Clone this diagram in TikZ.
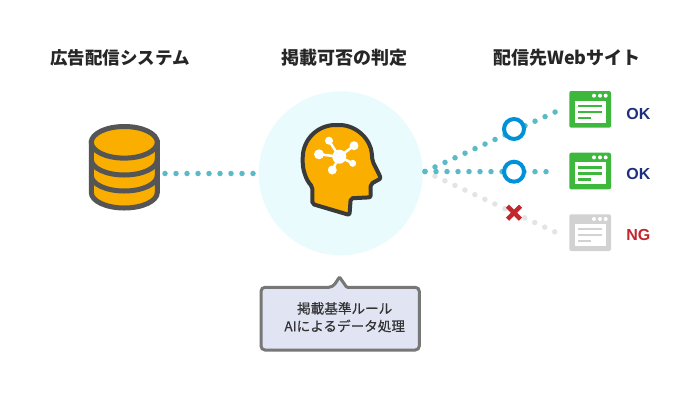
\documentclass[tikz,border=0pt]{standalone}
\usepackage{fontspec}
\newfontfamily\cjk{Noto Sans CJK JP}
\newfontfamily\cjknote[FakeBold=0.25]{Noto Sans CJK JP}
\newfontfamily\okfont{Liberation Sans}
\usetikzlibrary{shapes.misc}

\definecolor{headfill}{HTML}{F9AE00}
\definecolor{headline}{HTML}{3A3A3A}
\definecolor{dbline}{HTML}{555555}
\definecolor{halo}{HTML}{E9FBFD}
\definecolor{tealdot}{HTML}{5BBAC8}
\definecolor{greydot}{HTML}{E4E4E4}
\definecolor{okblue}{HTML}{0092D8}
\definecolor{ngred}{HTML}{C1272D}
\definecolor{okgreen}{HTML}{3DB83D}
\definecolor{nggrey}{HTML}{D2D2D2}
\definecolor{oknavy}{HTML}{1F2F7F}
\definecolor{notefill}{HTML}{E0E4F3}
\definecolor{noteline}{HTML}{777777}

\begin{document}
\begin{tikzpicture}[x=1pt,y=-1pt]
    \tikzset{
        title/.style={font=\cjk\bfseries\fontsize{#1}{21}\selectfont, text=black!85, inner sep=0pt},
        verdict/.style={font=\okfont\bfseries\fontsize{16}{19}\selectfont, inner sep=0pt},
        notetext/.style={font=\cjknote\fontsize{13.6}{17.7}\selectfont, text=black!80, align=center, inner sep=0pt},
        dotline/.style={line width=5.5pt, line cap=round, dash pattern=on 0pt off 11pt, color=#1},
        ring/.style={circle, draw=okblue, fill=white, line width=4pt, minimum size=20pt, inner sep=0pt},
        browser/.pic={
            \fill[#1, rounded corners=2pt] (569.3,91) rectangle (611,127.7);
            \fill[white] (575,100.7) rectangle (605.7,122.7);
            \foreach \dotx in {594,600,605.7} {
                \fill[white] (\dotx,95.7) circle (2pt);
            }
            \foreach \liney/\lineend in {105.7/602.3,111.7/602.3,117.7/590.7} {
                \draw[#1, line width=2.4pt] (578.3,\liney) -- (\lineend,\liney);
            }
        },
    }
    \useasboundingbox (0,0) rectangle (700,400);

    % Titles
    \node[title=17.5] (titleA) at (120,58) {広告配信システム};
    \node[title=18] (titleB) at (344,58) {掲載可否の判定};
    \node[title=18] (titleC) at (567,58) {配信先Webサイト};

    % Halo
    \node[circle, fill=halo, minimum size=164pt, inner sep=0pt] (judge) at (340.7,173.3) {};

    % Ends of the dotted lines
    \coordinate (dbout) at (165,173.5);
    \coordinate (judgein) at (255.5,173.5);
    \coordinate (hub) at (425,171.5);
    \coordinate (siteA) at (556,111.6);
    \coordinate (siteB) at (556,171.7);
    \coordinate (siteC) at (556,232.4);

    % Dotted lines
    \draw[dotline=tealdot] (dbout) -- (judgein);
    \draw[dotline=greydot] (hub) -- (siteC);
    \draw[dotline=tealdot] (hub) -- (siteA);
    \draw[dotline=tealdot] (hub) -- (siteB);

    % Database
    \draw[fill=headfill, draw=dbline, line width=5pt] (91.3,142.3) -- (91.3,192.5)
        arc[start angle=180, end angle=0, x radius=33, y radius=15.5] -- (157.3,142.3) -- cycle;
    \draw[draw=dbline, line width=5pt] (91.3,159.5) arc[start angle=180, end angle=0, x radius=33, y radius=15.5];
    \draw[draw=dbline, line width=5pt] (91.3,175.5) arc[start angle=180, end angle=0, x radius=33, y radius=15.5];
    \draw[fill=headfill, draw=dbline, line width=5pt] (124.3,142.3) ellipse [x radius=33, y radius=15.8];

    % Head
    \draw[fill=headfill, draw=headline, line width=4pt, line join=round, rounded corners=2pt]
        (312.3,204) -- (312.3,186.7)
        .. controls (306,180) and (302.7,170) .. (302.7,160)
        .. controls (302.7,139) and (318,125) .. (337.3,125)
        .. controls (357,125) and (371,140) .. (372,156)
        -- (372.5,161) -- (381,178.3) -- (370.7,184) -- (370.7,197.3) -- (350.7,198.3) -- (349.5,215) -- cycle;

    % Network in the head
    \foreach \netx/\nety/\netr in {329/140.7/4,354/145.7/4.5,319/154.3/5,352.7/163.3/3.5,332.3/170/4.5} {
        \draw[white, line width=2.5pt] (339.3,156.7) -- (\netx,\nety);
        \fill[white] (\netx,\nety) circle (\netr pt);
    }
    \fill[white] (339.3,156.7) circle (7pt);

    % Marks
    \node[ring] (markA) at (514,129) {};
    \node[ring] (markB) at (514,171.7) {};
    \node[cross out, draw=ngred, line width=4.5pt, minimum size=13pt, inner sep=0pt, outer sep=0pt] (markC) at (514,212.7) {};

    % Sites
    \pic (browserA) at (0,0) {browser=okgreen};
    \pic (browserB) at (0,61.7) {browser=okgreen};
    \pic (browserC) at (0,123.3) {browser=nggrey};
    \node[verdict, text=oknavy] (okA) at (638.3,114) {OK};
    \node[verdict, text=oknavy] (okB) at (638.3,174.3) {OK};
    \node[verdict, text=ngred] (ngC) at (638.3,234.7) {NG};

    % Note
    \draw[fill=notefill, draw=noteline, line width=3pt, rounded corners=4pt]
        (261,287.3) -- (332.7,287.3) [rounded corners=1pt] -- (339.5,277) [rounded corners=1pt] -- (346.7,287.3) [rounded corners=4pt] -- (419.3,287.3)
        -- (419.3,350) -- (261,350) -- cycle;
    \node[notetext] (note) at (344.7,317.2) {掲載基準ルール\\AIによるデータ処理};

\end{tikzpicture}
\end{document}
